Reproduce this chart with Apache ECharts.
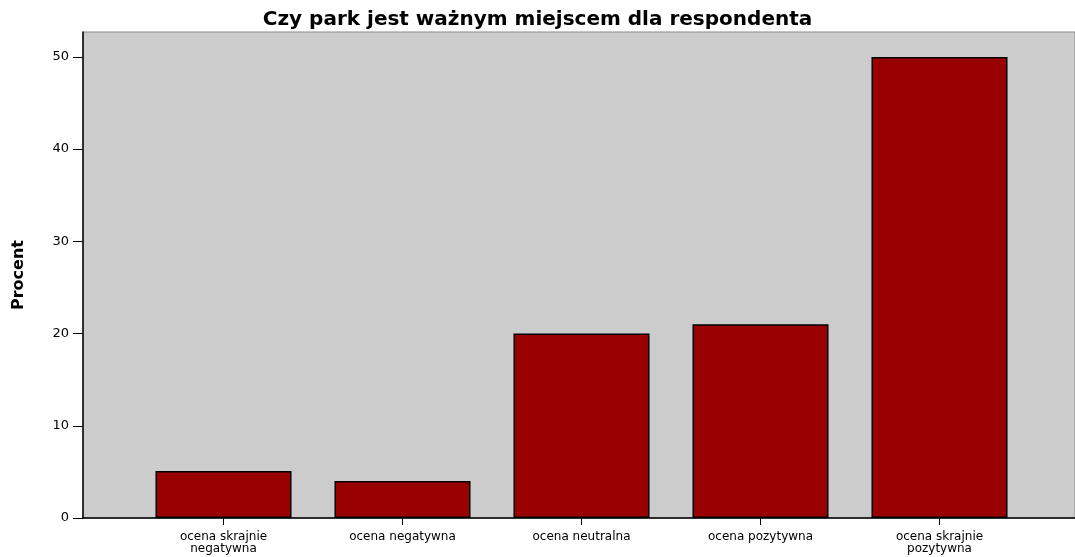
<!DOCTYPE html>
<html>
<head>
<meta charset="utf-8">
<script src="https://cdn.jsdelivr.net/npm/echarts@6/dist/echarts.min.js"></script>
<style>
  html, body { margin: 0; padding: 0; background: #fff; }
  #chart { width: 1075px; height: 557px; }
</style>
</head>
<body>
<div id="chart"></div>
<script>
// categories and values
const categories = [
  'ocena skrajnie\nnegatywna',
  'ocena negatywna',
  'ocena neutralna',
  'ocena pozytywna',
  'ocena skrajnie\npozytywna'
];
const percent = [5.1, 4.0, 20.0, 21.0, 50.0];
const yTicks = [0, 10, 20, 30, 40, 50];

const chart = echarts.init(document.getElementById('chart'));

const font = 'DejaVu Sans, Arial, sans-serif';
const yMax = 52.7;

chart.setOption({
  animation: false,
  title: {
    text: 'Czy park jest ważnym miejscem dla respondenta',
    left: 'center',
    top: 5,
    textStyle: { fontFamily: font, fontSize: 20, fontWeight: 'bold', color: '#000' }
  },
  grid: [
    // background frame
    { left: 83, right: 0, top: 32, bottom: 39, show: true,
      backgroundColor: '#cccccc', borderColor: '#888', borderWidth: 1 },
    // bars
    { left: 134, right: 46, top: 32, bottom: 39 }
  ],
  xAxis: [
    { gridIndex: 0, type: 'category', data: [''],
      axisLine: { show: true, lineStyle: { color: '#000', width: 1.5 } },
      axisTick: { show: false }, axisLabel: { show: false } },
    { gridIndex: 1, type: 'category', data: categories,
      axisLine: { show: false },
      axisTick: { show: true, alignWithLabel: true, length: 7, lineStyle: { color: '#000' } },
      axisLabel: { color: '#000', fontFamily: font, fontSize: 12, margin: 13, lineHeight: 12, interval: 0 } }
  ],
  yAxis: [
    { gridIndex: 0, type: 'value', min: 0, max: yMax, interval: 10,
      name: 'Procent', nameLocation: 'middle', nameGap: 56, nameRotate: 90,
      nameTextStyle: { fontFamily: font, fontSize: 16, fontWeight: 'bold', color: '#000' },
      axisLine: { show: true, lineStyle: { color: '#000', width: 1.5 } },
      axisTick: { show: true, length: 10, customValues: yTicks, lineStyle: { color: '#000' } },
      axisLabel: { color: '#000', fontFamily: font, fontSize: 13, margin: 14, customValues: yTicks },
      splitLine: { show: false } },
    { gridIndex: 1, type: 'value', min: 0, max: yMax, show: false, splitLine: { show: false } }
  ],
  series: [{
    type: 'bar',
    xAxisIndex: 1,
    yAxisIndex: 1,
    data: percent,
    barWidth: '76%',
    itemStyle: { color: '#990000', borderColor: '#000', borderWidth: 1.5 }
  }]
});
</script>
</body>
</html>
